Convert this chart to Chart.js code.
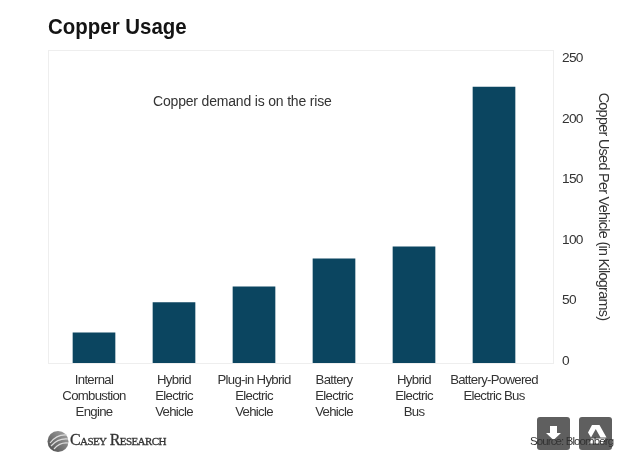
<!DOCTYPE html>
<html>
<head>
<meta charset="utf-8">
<title>Copper Usage</title>
<script src="https://cdn.jsdelivr.net/npm/chart.js@4/dist/chart.umd.min.js"></script>
<style>
    body { margin: 0; background: #fff; }
    #wrap { position: relative; width: 636px; height: 472px; overflow: hidden; font-family: "Liberation Sans", Arial, sans-serif; }
    canvas { position: absolute; left: 0; top: 0; }
    .abs { position: absolute; white-space: nowrap; }
    #chartTitle { left: 48px; top: 14px; font-size: 22px; font-weight: bold; color: #141414; line-height: 26px; transform: scaleX(0.93); transform-origin: left; }
    #logoText { left: 70px; top: 431px; font-family: "Liberation Serif", serif; font-size: 16px; font-variant: small-caps; color: #333; line-height: 18px; letter-spacing: -0.6px; -webkit-text-stroke: 0.3px #333; }
    .btn { position: absolute; top: 417px; width: 33px; height: 33px; background: #5f5f5f; border-radius: 3px; }
    #source { left: 530px; top: 435px; font-size: 11.5px; letter-spacing: -0.9px; color: #333; line-height: 13px; }
</style>
</head>
<body>
<div id="wrap">
    <canvas id="copperChart" width="636" height="472"></canvas>
    <div class="abs" id="chartTitle">Copper Usage</div>
    <svg class="abs" style="left:47px;top:430px" width="22" height="23" viewBox="0 0 22 23">
        <defs>
            <linearGradient id="logoFill" x1="0" y1="1" x2="1" y2="0">
                <stop offset="0" stop-color="#4a4a4a"/>
                <stop offset="1" stop-color="#a8a8a8"/>
            </linearGradient>
        </defs>
        <circle cx="11" cy="11.5" r="10.5" fill="url(#logoFill)"/>
        <path d="M3 13 Q10 4 20 5 M4 16 Q11 8 21 9 M7 19 Q13 12 21 13" stroke="#ddd" stroke-width="1.2" fill="none"/>
    </svg>
    <div class="abs" id="logoText">Casey Research</div>
    <div class="btn" style="left:537px">
        <svg width="33" height="33" viewBox="0 0 33 33"><path d="M13 9h7v7h4l-7.500 7-7.500-7h4z" fill="#fff"/></svg>
    </div>
    <div class="btn" style="left:579px">
        <svg width="33" height="33" viewBox="0 0 33 33"><path d="M13 8h6l-7 12.500-3-5z M20.500 8l7 12.500h-6l-7-12.500z M12.500 21.500h14l-3 5h-14z" fill="#fff"/></svg>
    </div>
    <div class="abs" id="source">Source: Bloomberg</div>
</div>

<script>
const categories = [
    ['Internal', 'Combustion', 'Engine'],
    ['Hybrid', 'Electric', 'Vehicle'],
    ['Plug-in Hybrid', 'Electric', 'Vehicle'],
    ['Battery', 'Electric', 'Vehicle'],
    ['Hybrid', 'Electric', 'Bus'],
    ['Battery-Powered', 'Electric Bus']
];
const copperUsed = [25, 50, 63, 86, 96, 228];
const yTicks = [0, 50, 100, 150, 200, 250];

const textColor = '#333';
const fontName = '"Liberation Sans", Arial, sans-serif';

// frame is wider than the category band, so it is drawn by hand
const framePlugin = {
    id: 'frame',
    beforeDraw(chart) {
        const ctx = chart.ctx;
        const a = chart.chartArea;
        ctx.save();
        ctx.strokeStyle = '#eeeeee';
        ctx.strokeRect(a.left - 6 + 0.5, a.top + 0.5, a.width + 25, a.height);
        ctx.restore();
        // the reference text is condensed, axis labels pick this up
        ctx.letterSpacing = '-0.7px';
    },
    afterDraw(chart) {
        const ctx = chart.ctx;
        const a = chart.chartArea;
        ctx.save();
        ctx.fillStyle = textColor;
        ctx.font = '14px ' + fontName;
        ctx.letterSpacing = '-0.18px';
        ctx.textBaseline = 'middle';
        ctx.fillText('Copper demand is on the rise', a.left + 99, a.top + 52);
        ctx.restore();
    }
};

new Chart(document.getElementById('copperChart'), {
    type: 'bar',
    data: {
        labels: categories,
        datasets: [{
            label: 'Copper Used Per Vehicle (in Kilograms)',
            data: copperUsed,
            backgroundColor: '#0b4560',
            barThickness: 42
        }]
    },
    options: {
        responsive: false,
        animation: false,
        layout: { padding: { left: 54, top: 50, right: 0, bottom: 0 } },
        plugins: { legend: { display: false }, tooltip: { enabled: false } },
        scales: {
            x: {
                grid: { display: false },
                border: { display: false },
                afterFit(scale) { scale.height = 109; },
                ticks: {
                    color: textColor,
                    font: { family: fontName, size: 13.2, lineHeight: '16px' },
                    padding: 1,
                    maxRotation: 0,
                    autoSkip: false
                }
            },
            y: {
                position: 'right',
                min: 0,
                max: 258.7,
                afterFit(scale) { scale.width = 102; },
                afterBuildTicks(scale) { scale.ticks = yTicks.map(v => ({ value: v })); },
                grid: { display: false, drawTicks: false },
                border: { display: false },
                ticks: {
                    color: textColor,
                    font: { family: fontName, size: 13.7 },
                    padding: 28,
                    labelOffset: -2
                },
                title: {
                    display: true,
                    text: 'Copper Used Per Vehicle (in Kilograms)',
                    color: textColor,
                    font: { family: fontName, size: 14.4 },
                    padding: { top: 24, bottom: 0 }
                }
            }
        }
    },
    plugins: [framePlugin]
});
</script>
</body>
</html>
